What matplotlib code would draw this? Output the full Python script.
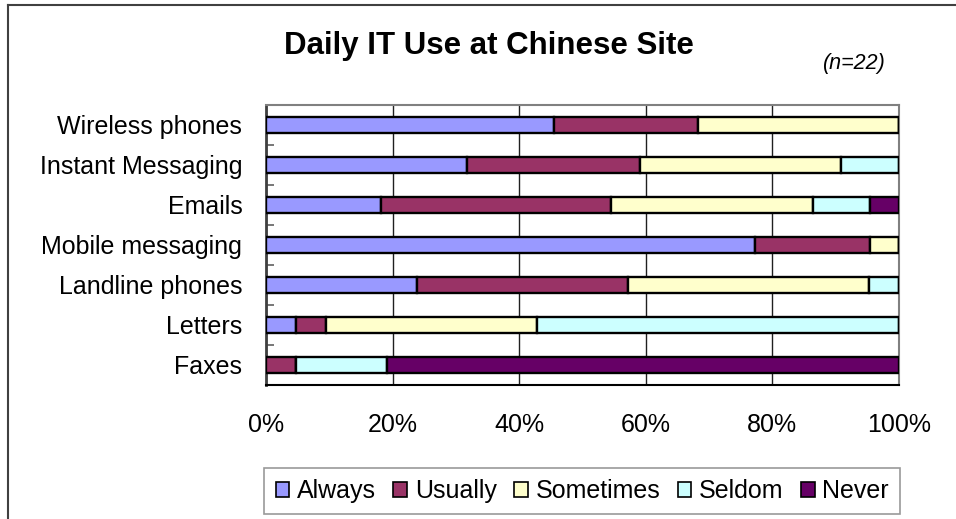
import numpy as np
import matplotlib.pyplot as plt
from matplotlib.lines import Line2D

# Survey counts per channel (rows) and frequency answer (series)
categories = ['Wireless phones', 'Instant Messaging', 'Emails', 'Mobile messaging',
              'Landline phones', 'Letters', 'Faxes']
always = [10, 7, 4, 17, 5, 1, 0]
usually = [5, 6, 8, 4, 7, 1, 1]
sometimes = [7, 7, 7, 1, 8, 7, 0]
seldom = [0, 2, 2, 0, 1, 12, 3]
never = [0, 0, 1, 0, 0, 0, 17]

series_names = ['Always', 'Usually', 'Sometimes', 'Seldom', 'Never']
series_colors = ['#9999FF', '#993366', '#FFFFCC', '#CCFFFF', '#660066']
xticks = [0, 20, 40, 60, 80, 100]

plt.rcParams['font.family'] = ['Liberation Sans', 'DejaVu Sans']

counts = np.array([always, usually, sometimes, seldom, never], dtype=float)
pct = counts / counts.sum(axis=0) * 100

fig = plt.figure(figsize=(9.56, 5.19), dpi=100)
ax = fig.add_axes([0.2782, 0.2582, 0.9404 - 0.2782, 0.7977 - 0.2582])

y = np.arange(len(categories))
left = np.zeros(len(categories))
for name, color, vals in zip(series_names, series_colors, pct):
    ax.barh(y, vals, left=left, height=0.42, color=color, edgecolor='black',
            linewidth=1.7, label=name, zorder=3)
    left += vals

ax.set_xlim(0, 100)
ax.set_ylim(len(categories) - 0.5, -0.5)

# vertical gridlines
ax.set_xticks(xticks)
ax.set_xticklabels([f'{t}%' for t in xticks], fontsize=18)
ax.xaxis.grid(True, color='#202020', linewidth=1.0, zorder=0)
ax.tick_params(axis='x', length=0, pad=20)

# category labels with ticks on the band boundaries
ax.set_yticks(y)
ax.set_yticklabels(categories, fontsize=18)
ax.tick_params(axis='y', which='major', length=0, pad=17)
ax.set_yticks(np.arange(len(categories) + 1) - 0.5, minor=True)
ax.tick_params(axis='y', which='minor', length=6, width=1.2, color='#606060',
               direction='in')

ax.spines['top'].set_color('#808080')
ax.spines['right'].set_color('#808080')
ax.spines['top'].set_linewidth(1.5)
ax.spines['right'].set_linewidth(1.5)
ax.spines['left'].set_color('#404040')
ax.spines['left'].set_linewidth(2)
ax.spines['bottom'].set_color('black')
ax.spines['bottom'].set_linewidth(1.5)

fig.text(0.5115, 0.911, 'Daily IT Use at Chinese Site', ha='center', va='center',
         fontsize=22.5, fontweight='bold')
fig.text(0.894, 0.877, '(n=22)', ha='center', va='center', fontsize=15.5,
         fontstyle='italic')

# outer chart frame (left and top edges)
fig.add_artist(Line2D([0.0084, 0.0084], [0, 0.990], color='#404040', linewidth=1.5,
                      transform=fig.transFigure))
fig.add_artist(Line2D([0.0084, 1.0], [0.990, 0.990], color='#404040', linewidth=1.5,
                      transform=fig.transFigure))

leg = fig.legend(loc='center', bbox_to_anchor=(0.609, 0.054), ncol=5, fontsize=18,
                 frameon=True, fancybox=False, handlelength=0.55, handleheight=0.55,
                 handletextpad=0.3, columnspacing=0.7, borderpad=0.45,
                 borderaxespad=0)
leg.get_frame().set_edgecolor('#808080')
leg.get_frame().set_linewidth(1.2)
for h in leg.legend_handles:
    h.set_linewidth(1.2)

fig.savefig('out.png', dpi=100)
